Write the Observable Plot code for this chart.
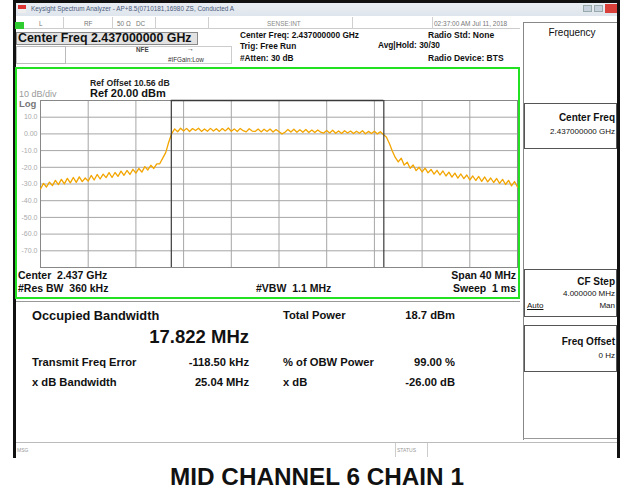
<!DOCTYPE html>
<html><head><meta charset="utf-8">
<script src="https://cdn.jsdelivr.net/npm/d3@7"></script>
<script src="https://cdn.jsdelivr.net/npm/@observablehq/plot@0.6"></script>
<style>
html,body{margin:0;padding:0;background:#fff;}
#root{position:relative;width:630px;height:492px;overflow:hidden;font-family:"Liberation Sans",Arial,sans-serif;}
.a{position:absolute;white-space:pre;line-height:1;}
.bx{position:absolute;box-sizing:border-box;}
</style></head><body><div id="root"></div>
<script>
// ---- data ----
const startGHz = 2.417;          // Center 2.437 GHz, Span 40 MHz
const stopGHz = 2.457;
const stepMHz = 0.25;
const traceDbm = [
 -33.0,-29.6,-31.8,-28.9, -31.0,-27.8,-30.4,-27.2, -29.9,-26.6,-29.3,-26.1,
 -29.0,-25.7,-28.6,-26.4, -28.3,-24.9,-27.6,-24.3, -27.0,-24.1,-26.2,-23.2,
 -26.1,-23.1,-25.4,-22.3, -24.8,-21.9,-24.3,-21.2, -23.5,-20.7,-22.9,-19.6,
 -21.6,-18.8,-20.7,-17.9, -17.9,-14.5,-11.2,-5.0,  0.2,3.0,1.3,3.4,
 1.7,3.3,1.4,3.2, 2.0,3.4,1.5,3.0, 1.6,3.3,1.7,3.1, 1.5,3.2,1.8,3.5,
 1.6,3.0,1.4,3.3, 1.9,1.2,3.1,1.7, 1.5,2.9,1.2,2.8, 1.4,2.9,1.1,2.6,
 1.3,0.0,1.0,2.7, 1.1,2.8,1.0,2.5, 1.0,2.6,0.8,2.3, 0.8,2.4,1.0,0.5,
 2.1,0.6,2.2,0.4, 1.8,0.3,1.9,0.5, 1.7,0.2,1.6,0.4, 1.9,0.1,1.5,0.2,
 1.6,0.0,1.3,-0.4, -1.8,-5.6,-10.2,-14.1, -16.8,-14.6,-18.7,-16.9,
 -20.6,-18.6,-22.0,-20.0, -22.8,-20.5,-23.3,-21.3, -24.1,-21.8,-24.6,-22.2,
 -25.2,-22.9,-25.9,-23.5, -26.5,-24.0,-26.8,-24.6, -27.6,-25.2,-27.9,-25.5,
 -28.4,-25.8,-28.7,-26.4, -29.1,-26.7,-29.6,-27.2, -30.3,-27.8,-31.1,-28.5,
 -31.8
];
const gridY = [20,10,0,-10,-20,-30,-40,-50,-60,-70,-80];
const gridX = [2.421,2.425,2.429,2.433,2.437,2.441,2.445,2.449,2.453];
const yTicks = [10,0,-10,-20,-30,-40,-50,-60,-70];
const yTickLabels = ["10.0","0.00","-10.0","-20.0","-30.0","-40.0","-50.0","-60.0","-70.0"];
const obwEdges = [2.42797, 2.44579];  // 17.822 MHz occupied bandwidth

const trace = traceDbm.map((v,i)=>({f: startGHz + i*stepMHz/1000, db: v}));
const labelMap = new Map(yTicks.map((v,i)=>[v, yTickLabels[i]]));

const root = document.getElementById("root");
function box(x,y,w,h,style){const d=document.createElement("div");d.className="bx";
  Object.assign(d.style,{left:x+"px",top:y+"px",width:w+"px",height:h+"px"},style||{});root.appendChild(d);return d;}
function T(x,y,s,o){o=o||{};const size=o.size||9;const d=document.createElement("div");d.className="a";
  d.textContent=s;d.style.fontSize=size+"px";d.style.top=(y-0.49*size)+"px";
  d.style.color=o.color||"#111";if(o.bold)d.style.fontWeight="bold";
  if(o.align==="r"){d.style.right=(630-x)+"px";}
  else if(o.align==="c"){d.style.left=x+"px";d.style.transform="translateX(-50%)";}
  else d.style.left=x+"px";
  if(o.css)Object.assign(d.style,o.css);
  d.style.zIndex=5;root.appendChild(d);return d;}

// ---- window frame ----
box(13,0,607,3,{background:"#111"});
box(13,0,3,458,{background:"#111"});
box(617,0,3,458,{background:"#111"});
box(16,3,601,13,{background:"linear-gradient(#e9eef4,#dfe5ec)"});
box(18,5,8,4,{background:"#d33"});box(18,9,8,4,{background:"#eee"});
T(31,9.5,"Keysight Spectrum Analyzer - AP+8.5(0710181,16980 ZS, Conducted A",{size:6.4,color:"#4a5a7a"});
box(583,5,9,7,{background:"#c8d2de",border:"1px solid #9aa"});
box(594,5,9,7,{background:"#c8d2de",border:"1px solid #9aa"});
box(605,4,12,9,{background:"#d9403a"});
// status row
box(16,17,504,12,{borderBottom:"1px solid #ccc"});
box(15,22,9,7,{background:"#2ecc2e"});
[63,112,155,208,352,432].forEach(x=>box(x,17,1,12,{background:"#d0d0d0"}));
T(39,24,"L",{size:6.4,color:"#777"});
T(84,24,"RF",{size:6.4,color:"#777"});
T(117,24,"50 Ω   DC",{size:6.4,color:"#777"});
T(267,24,"SENSE:INT",{size:6.4,color:"#888"});
T(434,24,"02:37:00 AM Jul 11, 2018",{size:6.5,color:"#777"});
// center freq row
box(16,32,182,13,{background:"#e2e2e2",border:"1px solid #8a8a8a"});
T(18,38.5,"Center Freq 2.437000000 GHz",{size:12.4,bold:true});
box(16,46,50,18,{border:"1px solid #bbb"});
box(66,46,166,18,{border:"1px solid #ccc",borderLeft:"none"});
T(136,50,"NFE",{size:6.3,bold:true,color:"#444"});
T(187,48.5,"→",{size:7,color:"#333"});
T(168,60,"#IFGain:Low",{size:6.3,color:"#333"});
T(240,35,"Center Freq: 2.437000000 GHz",{size:8.3,bold:true});
T(240,46,"Trig: Free Run",{size:8.3,bold:true});
T(240,58,"#Atten: 30 dB",{size:8.3,bold:true});
T(378,45,"Avg|Hold: 30/30",{size:8.3,bold:true});
T(428,35,"Radio Std: None",{size:8.5,bold:true});
T(428,58,"Radio Device: BTS",{size:8.5,bold:true});

// ---- right soft-key panel ----
box(523,22,1,418,{background:"#888"});
box(523,22,94,1,{background:"#888"});
T(572,33,"Frequency",{size:10,align:"c"});
box(524,103,93,46,{border:"1px solid #555"});
T(615,118,"Center Freq",{size:10,bold:true,align:"r"});
T(615,132,"2.437000000 GHz",{size:8,align:"r"});
box(524,269,93,48,{border:"1px solid #555"});
T(615,282,"CF Step",{size:10,bold:true,align:"r"});
T(615,294,"4.000000 MHz",{size:8,align:"r"});
T(527,306,"Auto",{size:8,css:{textDecoration:"underline"}});
T(615,306,"Man",{size:8,align:"r"});
box(524,325,93,47,{border:"1px solid #555"});
T(615,342,"Freq Offset",{size:10,bold:true,align:"r"});
T(615,356,"0 Hz",{size:8,align:"r"});
box(523,438,94,1,{background:"#999"});

// ---- green trace window ----
box(15,67,505,232,{border:"2px solid #22e022"});

const chart = Plot.plot({
  width: 503, height: 180,
  marginLeft: 24, marginRight: 2, marginTop: 5, marginBottom: 8,
  style: {background: "transparent", fontFamily: "Liberation Sans, Arial, sans-serif"},
  x: {domain: [startGHz, stopGHz], axis: null},
  y: {domain: [-80, 20], axis: null},
  marks: [
    Plot.ruleY(gridY, {stroke: "#a6a6a6", strokeWidth: 1}),
    Plot.ruleX(gridX, {stroke: "#a6a6a6", strokeWidth: 1}),
    Plot.frame({stroke: "#888"}),
    Plot.axisY(yTicks, {tickSize: 0, tickPadding: 3, tickFormat: d => labelMap.get(d), fontSize: 7, fill: "#aaa", label: null}),
    Plot.line(trace, {x: "f", y: "db", stroke: "#f2a500", strokeWidth: 1.3}),
    Plot.ruleX(obwEdges, {stroke: "#3a3a3a", strokeWidth: 1.2}),
    Plot.ruleY([20], {x1: obwEdges[0], x2: obwEdges[1], stroke: "#3a3a3a", strokeWidth: 1.6})
  ]
});
chart.style.position = "absolute";
chart.style.left = "16px";
chart.style.top = "95px";
chart.style.zIndex = 2;
root.appendChild(chart);

T(90,83,"Ref Offset 10.56 dB",{size:8.7,color:"#222",css:{fontWeight:"600"}});
T(90,93.5,"Ref 20.00 dBm",{size:11,bold:true});
T(19,94,"10 dB/div",{size:9,color:"#9a9a9a"});
T(19,104,"Log",{size:9.5,bold:true,color:"#777"});
T(18,275,"Center  2.437 GHz",{size:10.5,bold:true});
T(18,288,"#Res BW  360 kHz",{size:10.5,bold:true});
T(256,288,"#VBW  1.1 MHz",{size:10.5,bold:true});
T(516,275,"Span 40 MHz",{size:10.5,bold:true,align:"r"});
T(516,288,"Sweep  1 ms",{size:10.5,bold:true,align:"r"});

// ---- measurement panel ----
box(16,301,504,1,{background:"#999"});
T(32,316,"Occupied Bandwidth",{size:12.8,bold:true});
T(249,337,"17.822 MHz",{size:18.5,bold:true,align:"r"});
T(32,362,"Transmit Freq Error",{size:11.2,bold:true});
T(249,362,"-118.50 kHz",{size:11.2,bold:true,align:"r"});
T(32,382,"x dB Bandwidth",{size:11.2,bold:true});
T(249,382,"25.04 MHz",{size:11.2,bold:true,align:"r"});
T(283,315,"Total Power",{size:11.2,bold:true});
T(455,315,"18.7 dBm",{size:11.2,bold:true,align:"r"});
T(283,362,"% of OBW Power",{size:11.2,bold:true});
T(455,362,"99.00 %",{size:11.2,bold:true,align:"r"});
T(283,382,"x dB",{size:11.2,bold:true});
T(455,382,"-26.00 dB",{size:11.2,bold:true,align:"r"});
// message bar
box(16,442,601,1,{background:"#bbb"});
T(17,450,"MSG",{size:5,color:"#999"});
box(395,443,33,14,{borderLeft:"1px solid #ccc",borderRight:"1px solid #ccc"});
T(397,450,"STATUS",{size:5,color:"#999"});

// ---- caption ----
T(317,477,"MID CHANNEL 6 CHAIN 1",{size:24.3,bold:true,align:"c"});
</script></body></html>
